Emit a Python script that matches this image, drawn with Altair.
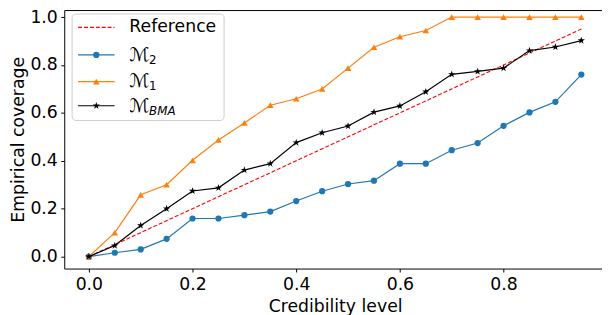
import altair as alt
import pandas as pd

# ---- data ----
levels = [0.0, 0.05, 0.1, 0.15, 0.2, 0.25, 0.3, 0.35, 0.4, 0.45,
          0.5, 0.55, 0.6, 0.65, 0.7, 0.75, 0.8, 0.85, 0.9, 0.95]
reference = [0.0, 0.05, 0.1, 0.15, 0.2, 0.25, 0.3, 0.35, 0.4, 0.45,
             0.5, 0.55, 0.6, 0.65, 0.7, 0.75, 0.8, 0.85, 0.9, 0.95]
m2 = [0.0, 0.016, 0.03, 0.074, 0.159, 0.159, 0.173, 0.188, 0.232, 0.273,
      0.303, 0.317, 0.388, 0.388, 0.444, 0.474, 0.546, 0.602, 0.646, 0.76]
m1 = [0.0, 0.10, 0.258, 0.30, 0.402, 0.487, 0.558, 0.632, 0.659, 0.70,
      0.787, 0.874, 0.918, 0.944, 1.0, 1.0, 1.0, 1.0, 1.0, 1.0]
bma = [0.0, 0.046, 0.13, 0.20, 0.274, 0.287, 0.361, 0.388, 0.476, 0.517,
       0.545, 0.603, 0.629, 0.688, 0.761, 0.773, 0.787, 0.86, 0.875, 0.902]

x_ticks = [0.0, 0.2, 0.4, 0.6, 0.8]
y_ticks = [0.0, 0.2, 0.4, 0.6, 0.8, 1.0]

legend_main = ["Reference", "\u2133", "\u2133", "\u2133"]
legend_sub = ["", "2", "1", "BMA"]
legend_colors = ["#ff0000", "#1f77b4", "#ff7f0e", "#000000"]

STAR = ("M0,-1L0.2245,-0.309L0.951,-0.309L0.363,0.118L0.588,0.809L0,0.382"
        "L-0.588,0.809L-0.363,0.118L-0.951,-0.309L-0.2245,-0.309Z")
legend_shapes = [None, "circle", "triangle-up", STAR]
legend_sizes = [0, 40, 45, 60]

FONT = "DejaVu Sans"
FS = 17.5

df = pd.DataFrame({"level": levels, "ref": reference, "m2": m2, "m1": m1, "bma": bma})

xscale = alt.Scale(domain=[-0.0475, 0.9975], nice=False, zero=False)
yscale = alt.Scale(domain=[-0.05, 1.0294], nice=False, zero=False)

X = alt.X("level:Q", scale=xscale,
          axis=alt.Axis(values=x_ticks, format=".1f", title="Credibility level",
                        titlePadding=5))


def Y(field):
    return alt.Y(f"{field}:Q", scale=yscale,
                 axis=alt.Axis(values=y_ticks, format=".1f", title="Empirical coverage",
                               titlePadding=2))


base = alt.Chart(df)

ref_line = base.mark_line(color="#ff0000", strokeDash=[4, 2], strokeWidth=1.1).encode(x=X, y=Y("ref"))
m2_line = base.mark_line(color="#1f77b4", strokeWidth=1.2).encode(x=X, y=Y("m2"))
m2_pts = base.mark_point(shape="circle", filled=True, size=40, color="#1f77b4", opacity=1).encode(x=X, y=Y("m2"))
m1_line = base.mark_line(color="#ff7f0e", strokeWidth=1.2).encode(x=X, y=Y("m1"))
m1_pts = base.mark_point(shape="triangle-up", filled=True, size=45, color="#ff7f0e", opacity=1).encode(x=X, y=Y("m1"))
bma_line = base.mark_line(color="#000000", strokeWidth=1.2).encode(x=X, y=Y("bma"))
bma_pts = base.mark_point(shape=STAR, filled=True, size=60, color="#000000", opacity=1).encode(x=X, y=Y("bma"))

# ---- manual legend (pixel positions inside the plot area) ----
one = pd.DataFrame({"a": [0]})
legend_layers = [
    alt.Chart(one).mark_rect(fill="white", fillOpacity=0.8, stroke="#cccccc",
                             strokeWidth=1, cornerRadius=4).encode(
        x=alt.value(8), x2=alt.value(162), y=alt.value(4), y2=alt.value(112))
]
row_y = [17.5, 45.5, 72.5, 97]
for i in range(4):
    ry = row_y[i]
    col = legend_colors[i]
    if i == 0:
        legend_layers.append(alt.Chart(one).mark_rule(color=col, strokeDash=[4, 2], strokeWidth=1.2).encode(
            x=alt.value(14), x2=alt.value(51), y=alt.value(ry)))
        legend_layers.append(alt.Chart(one).mark_text(text=legend_main[i], align="left", baseline="middle",
                                                      font=FONT, fontSize=FS, color="black").encode(
            x=alt.value(66), y=alt.value(ry)))
    else:
        legend_layers.append(alt.Chart(one).mark_rule(color=col, strokeWidth=1.2).encode(
            x=alt.value(14), x2=alt.value(51), y=alt.value(ry)))
        legend_layers.append(alt.Chart(one).mark_point(shape=legend_shapes[i], filled=True,
                                                       size=legend_sizes[i],
                                                       color=col, opacity=1).encode(
            x=alt.value(32.5), y=alt.value(ry)))
        legend_layers.append(alt.Chart(one).mark_text(text=legend_main[i], align="left", baseline="alphabetic",
                                                      font=FONT, fontSize=19, color="black").encode(
            x=alt.value(66), y=alt.value(ry + 6)))
        legend_layers.append(alt.Chart(one).mark_text(text=legend_sub[i], align="left", baseline="alphabetic",
                                                      font=FONT, fontSize=12, color="black",
                                                      fontStyle="italic" if legend_sub[i] == "BMA" else "normal").encode(
            x=alt.value(86), y=alt.value(ry + 9)))

chart = alt.layer(
    ref_line, m2_line, m2_pts, m1_line, m1_pts, bma_line, bma_pts, *legend_layers
).properties(
    width=549, height=262,
    autosize=alt.AutoSizeParams(type="none"),
    padding={"left": 57, "top": 0, "right": -4, "bottom": 45},
    background="white",
).configure_axis(
    labelFont=FONT, titleFont=FONT, labelFontSize=FS, titleFontSize=FS,
    labelColor="black", titleColor="black", titleFontWeight="normal",
    tickColor="black", tickSize=3.5, tickWidth=1, labelPadding=3.5,
    grid=False, domain=False,
).configure_view(stroke="black", strokeWidth=1)

chart.save("out.html", embed_options={"renderer": "svg", "actions": False})
